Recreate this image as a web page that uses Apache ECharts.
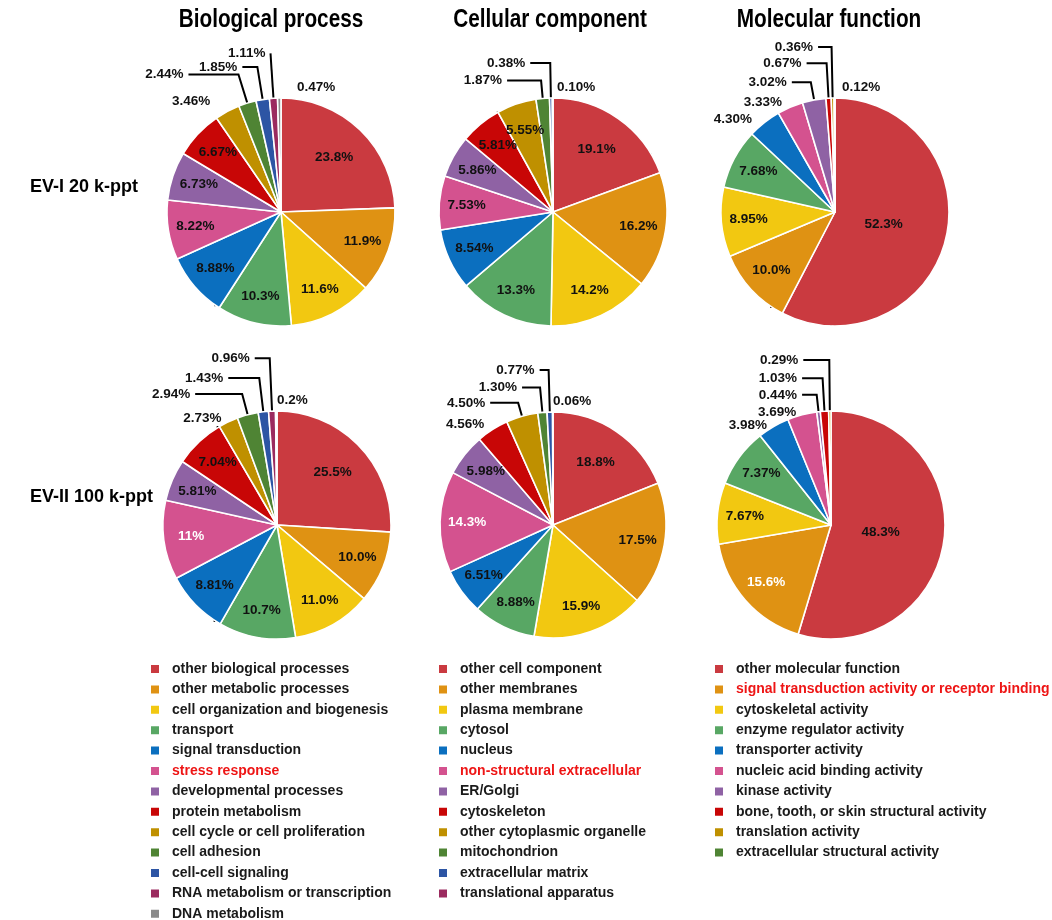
<!DOCTYPE html>
<html><head><meta charset="utf-8">
<script src="https://cdn.jsdelivr.net/npm/echarts@6/dist/echarts.min.js"></script>
<style>html,body{margin:0;padding:0;background:#fff}#c{width:1052px;height:920px}</style>
</head><body><div id="c"></div>
<script>
// ---------- data ----------
const colTitles = ["Biological process", "Cellular component", "Molecular function"];
const rowTitles = ["EV-I 20 k-ppt", "EV-II 100 k-ppt"];

const bpNames = ["other biological processes","other metabolic processes","cell organization and biogenesis","transport","signal transduction","stress response","developmental processes","protein metabolism","cell cycle or cell proliferation","cell adhesion","cell-cell signaling","RNA metabolism or transcription","DNA metabolism"];
const ccNames = ["other cell component","other membranes","plasma membrane","cytosol","nucleus","non-structural extracellular","ER/Golgi","cytoskeleton","other cytoplasmic organelle","mitochondrion","extracellular matrix","translational apparatus"];
const mfNames = ["other molecular function","signal transduction activity or receptor binding","cytoskeletal activity","enzyme regulator activity","transporter activity","nucleic acid binding activity","kinase activity","bone, tooth, or skin structural activity","translation activity","extracellular structural activity"];

const bpEV1 = ["23.8","11.9","11.6","10.3","8.88","8.22","6.73","6.67","3.46","2.44","1.85","1.11","0.47"];
const bpEV2 = ["25.5","10.0","11.0","10.7","8.81","11","5.81","7.04","2.73","2.94","1.43","0.96","0.2"];
const ccEV1 = ["19.1","16.2","14.2","13.3","8.54","7.53","5.86","5.81","5.55","1.87","0.38","0.10"];
const ccEV2 = ["18.8","17.5","15.9","8.88","6.51","14.3","5.98","4.56","4.50","1.30","0.77","0.06"];
const mfEV1 = ["52.3","10.0","8.95","7.68","4.30","3.33","3.02","0.67","0.36","0.12"];
const mfEV2 = ["48.3","15.6","7.67","7.37","3.98","3.69","0.44","1.03","0.29"];

const highlighted = ["stress response","non-structural extracellular","signal transduction activity or receptor binding"];

// ---------- styling ----------
const FONT = "'Liberation Sans', Arial, Helvetica, sans-serif";
const palette = ["#CA3A40","#DF9213","#F2C811","#58A764","#0B6FBF","#D4528F","#8F62A4","#C80606","#BF9000","#4F8434","#2D55A4","#9B2B5F","#8A8A8A"];

// per pie: center, radius, leader-line lengths for outside labels [len, len2, showLine], flipped last label, white labels
const pies = [
  {vals: bpEV1, names: bpNames, center: [281, 212], r: 114,
   lead: {8:[11,7,0], 9:[30,50,1], 10:[33,15,1], 11:[45,0,1], 12:[11,0,0]}, flip: [12, 16], white: []},
  {vals: ccEV1, names: ccNames, center: [553, 212], r: 114,
   lead: {9:[18,34,1], 10:[35,20,1], 11:[11,0,0]}, flip: [11, 4], white: []},
  {vals: mfEV1, names: mfNames, center: [835, 212], r: 114,
   lead: {4:[4.5,4.5,0], 5:[5.5,1,0], 6:[18,19,1], 7:[35,20,1], 8:[51,13.5,1], 9:[11,0,0]}, flip: [9, 7], white: []},
  {vals: bpEV2, names: bpNames, center: [277, 525], r: 114,
   lead: {8:[4,0,0], 9:[21.5,47,1], 10:[34,31,1], 11:[53,15,1], 12:[11,0,0]}, flip: [12, 0], white: [5]},
  {vals: ccEV2, names: ccNames, center: [553, 525], r: 113,
   lead: {7:[6,0,0], 8:[14,28,1], 9:[25,18,1], 10:[42,9,1], 11:[11,0,0]}, flip: [11, 0], white: [5]},
  {vals: mfEV2, names: mfNames, center: [831, 525], r: 114,
   lead: {4:[1,1,0], 5:[3,0,0], 6:[17,14.6,1], 7:[33,20.5,1], 8:[51,26,1]}, flip: null, white: [1]}
];

const series = pies.map(function (cfg) {
  const nums = cfg.vals.map(parseFloat);
  const total = nums.reduce(function (a, b) { return a + b; }, 0);
  const cx = cfg.center[0], cy = cfg.center[1], R = cfg.r;
  const data = cfg.vals.map(function (s, i) {
    const item = {name: cfg.names[i], value: nums[i], txt: s + '%', itemStyle: {color: palette[i]}};
    const ld = cfg.lead[i];
    if (ld) {
      item.label = {position: 'outside', color: '#111'};
      item.labelLine = {show: !!ld[2], length: ld[0], length2: ld[1]};
    } else if (cfg.white.indexOf(i) >= 0) {
      item.label = {color: '#ffffff'};
    }
    return item;
  });
  return {
    type: 'pie',
    center: cfg.center,
    radius: R,
    startAngle: 90,
    clockwise: true,
    avoidLabelOverlap: false,
    data: data,
    itemStyle: {borderColor: '#ffffff', borderWidth: 1.6},
    label: {
      show: true, position: 'inside', color: '#111',
      fontFamily: FONT, fontWeight: 'bold', fontSize: 13.5,
      textBorderWidth: 0, distanceToLabelLine: 5,
      formatter: function (p) { return p.data.txt; }
    },
    labelLine: {show: true, lineStyle: {color: '#000', width: 2}},
    emphasis: {disabled: true},
    labelLayout: function (p) {
      const i = p.dataIndex;
      if (cfg.flip && i === cfg.flip[0]) return {x: cx + cfg.flip[1], align: 'left'};
      if (cfg.lead[i]) return {};
      const lr = p.labelRect;
      const lx = lr.x + lr.width / 2, ly = lr.y + lr.height / 2;
      const dx = lx - cx, dy = ly - cy;
      const d = Math.sqrt(dx * dx + dy * dy) || 1;
      const frac = nums[i] / total;
      const f = frac > 0.4 ? 0.44 : (frac > 0.18 ? 0.67 : 0.76);
      return {x: cx + dx / d * f * R, y: cy + dy / d * f * R};
    }
  };
});

function legendFor(names, left) {
  return {
    orient: 'vertical', left: left, top: 662, height: 300, padding: 0,
    icon: 'rect', itemWidth: 10, itemHeight: 10, itemGap: 6.4,
    selectedMode: false,
    data: names.map(function (n) {
      return highlighted.indexOf(n) >= 0 ? {name: n, textStyle: {color: '#EE1515'}} : {name: n};
    }),
    textStyle: {fontFamily: FONT, fontWeight: 'bold', fontSize: 14, color: '#1a1a1a', lineHeight: 14, padding: [0, 0, 0, 7]}
  };
}

const graphics = [];
const titleX = [271, 550, 829];
colTitles.forEach(function (t, k) {
  graphics.push({type: 'text', x: titleX[k], y: 20, scaleX: 0.83, silent: true,
    style: {text: t, font: 'bold 25px ' + FONT, fill: '#000', textAlign: 'center', textVerticalAlign: 'middle'}});
});
const rowY = [187, 497];
rowTitles.forEach(function (t, k) {
  graphics.push({type: 'text', x: 30, y: rowY[k], silent: true,
    style: {text: t, font: 'bold 18px ' + FONT, fill: '#000', textAlign: 'left', textVerticalAlign: 'middle'}});
});

const chart = echarts.init(document.getElementById('c'), null, {renderer: 'canvas'});
chart.setOption({
  backgroundColor: '#ffffff',
  animation: false,
  legend: [legendFor(bpNames, 149), legendFor(ccNames, 437), legendFor(mfNames, 713)],
  graphic: graphics,
  series: series
});
</script></body></html>
